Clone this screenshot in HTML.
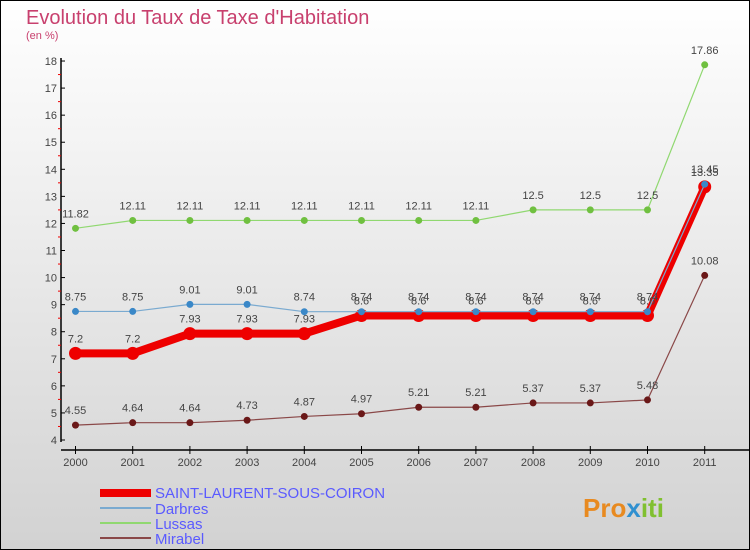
<!DOCTYPE html>
<html><head><meta charset="utf-8"><style>
body{margin:0}
#c{width:750px;height:550px;position:relative;overflow:hidden;font-family:"Liberation Sans",sans-serif}
</style></head><body>
<div id="c">
<svg id="s" width="750" height="550" xmlns="http://www.w3.org/2000/svg">
<defs><linearGradient id="bg" x1="0" y1="0" x2="0" y2="1"><stop offset="0" stop-color="#ffffff"/><stop offset="1" stop-color="#d2d2d2"/></linearGradient></defs>
<rect x="0.5" y="0.5" width="749" height="549" fill="url(#bg)" stroke="#000"/>
<text x="26" y="24" font-size="20" fill="#c8406e">Evolution du Taux de Taxe d'Habitation</text>
<text x="26" y="39" font-size="11" fill="#c8406e">(en %)</text>
<g id="axes"></g><g id="series"></g>
<g>
<rect x="100" y="489" width="51" height="8" fill="#ee0000"/>
<text x="155" y="498" font-size="15" fill="#5a5aff">SAINT-LAURENT-SOUS-COIRON</text>
<rect x="100" y="507" width="51" height="2" fill="#7aaad0"/>
<text x="155" y="514" font-size="15" fill="#5a5aff">Darbres</text>
<rect x="100" y="522" width="51" height="2" fill="#90d870"/>
<text x="155" y="529" font-size="15" fill="#5a5aff">Lussas</text>
<rect x="100" y="537" width="51" height="2" fill="#8a4848"/>
<text x="155" y="544" font-size="15" fill="#5a5aff">Mirabel</text>
</g>
<g><text x="583" y="517" font-size="26" font-weight="bold" fill="#e88a20">Pro<tspan fill="#3090d0">x</tspan><tspan fill="#80c030">iti</tspan></text></g>
</svg></div>
<script>
const years=["2000","2001","2002","2003","2004","2005","2006","2007","2008","2009","2010","2011"];
const yTicks=[4,5,6,7,8,9,10,11,12,13,14,15,16,17,18];
const slsc=[7.2,7.2,7.93,7.93,7.93,8.6,8.6,8.6,8.6,8.6,8.6,13.35];
const darbres=[8.75,8.75,9.01,9.01,8.74,8.74,8.74,8.74,8.74,8.74,8.74,13.45];
const lussas=[11.82,12.11,12.11,12.11,12.11,12.11,12.11,12.11,12.5,12.5,12.5,17.86];
const mirabel=[4.55,4.64,4.64,4.73,4.87,4.97,5.21,5.21,5.37,5.37,5.48,10.08];
const NS="http://www.w3.org/2000/svg";
const xs=i=>75.5+i*57.2;
const ys=v=>440-(v-4)*27.07;
function mk(t,a,p){const e=document.createElementNS(NS,t);for(const k in a)e.setAttribute(k,a[k]);p.appendChild(e);return e;}
const ax=document.getElementById('axes');
let yl=mk('line',{x1:61,y1:58,x2:61,y2:442,stroke:'#000','stroke-width':1.5},ax);


let xl=mk('line',{x1:61,y1:450,x2:750,y2:450,stroke:'#000','stroke-width':1.5},ax);


yTicks.forEach(v=>{const y=ys(v);
mk('line',{x1:61,y1:y,x2:65,y2:y,stroke:'#000'},ax);
if(v<18)mk('line',{x1:58,y1:ys(v+0.5),x2:61,y2:ys(v+0.5),stroke:'#e00'},ax);
const t=mk('text',{x:57,y:y+4,'font-size':11,fill:'#444','text-anchor':'end'},ax);t.textContent=v;

});
years.forEach((yr,i)=>{const x=xs(i);
mk('line',{x1:x,y1:446,x2:x,y2:454,stroke:'#000'},ax);
const t=mk('text',{x:x,y:466,'font-size':11,fill:'#444','text-anchor':'middle'},ax);t.textContent=yr;

});
const sg=document.getElementById('series');
function draw(name,vals,color,w,r,dot){
const g=mk('g',{},sg);


mk('polyline',{points:vals.map((v,i)=>xs(i)+','+ys(v)).join(' '),fill:'none',stroke:color,'stroke-width':w},g);
vals.forEach((v,i)=>{const c=mk('circle',{cx:xs(i),cy:ys(v),r:r,fill:dot},g);


const t=mk('text',{x:xs(i),y:ys(v)-11,'font-size':11,fill:'#444','text-anchor':'middle'},g);t.textContent=v;

});}
draw('lussas',lussas,'#90d870',1.2,3.5,'#70c040');
draw('mirabel',mirabel,'#8a4848',1.2,3.5,'#6a1818');
draw('saint-laurent',slsc,'#ee0000',8,6.5,'#ee0000');
draw('darbres',darbres,'#7aaad0',1.2,3.5,'#3a88c8');
</script>
</body></html>
